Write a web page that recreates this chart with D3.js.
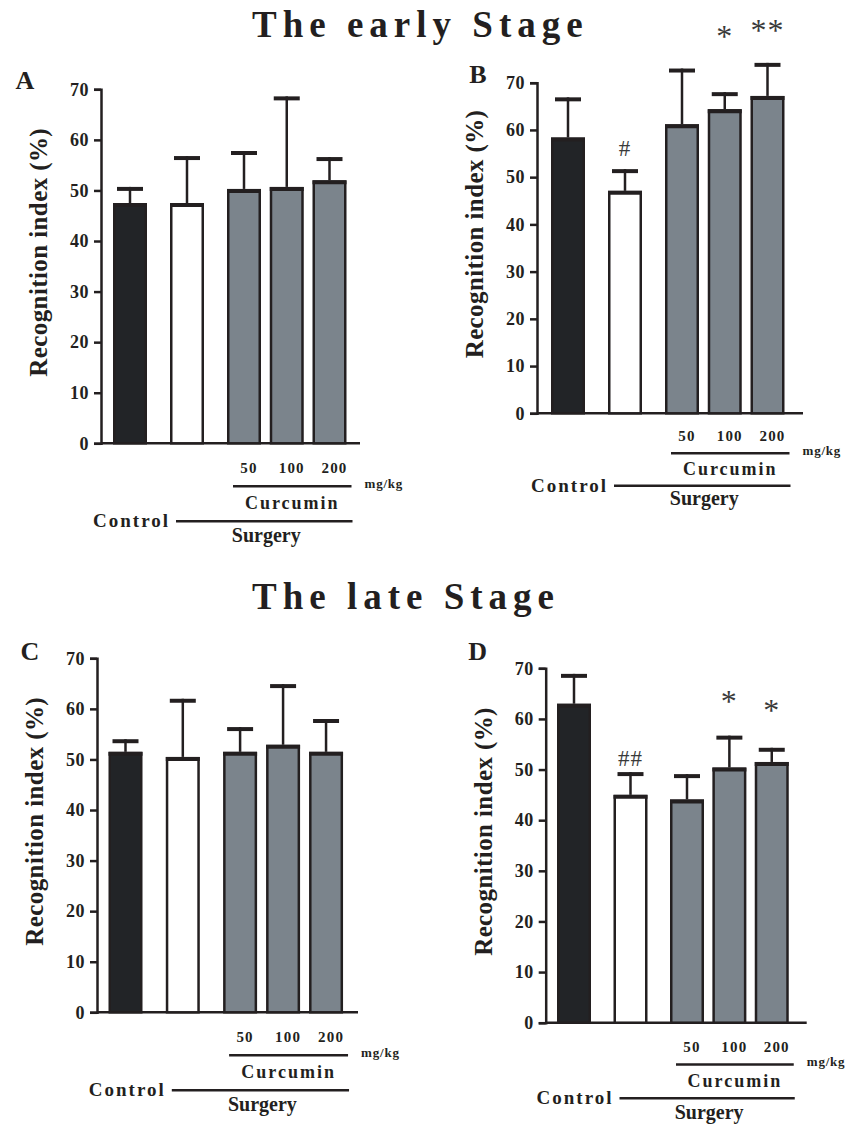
<!DOCTYPE html>
<html>
<head>
<meta charset="utf-8">
<script src="https://cdn.jsdelivr.net/npm/d3@7"></script>
<style>
  body { margin: 0; background: #fff; }
  svg text { font-family: "Liberation Serif", "Times New Roman", serif; font-weight: bold; fill: #231f20; }
</style>
</head>
<body>
<div id="chart"></div>
<script>
// groups and tick labels
var groups = ["Control", "Surgery", "Curcumin 50", "Curcumin 100", "Curcumin 200"];
var doseLabels = ["50", "100", "200"];
var yTicks = [0, 10, 20, 30, 40, 50, 60, 70];
var titles = ["The early Stage", "The late Stage"];

// means and upper SD
var meanA = [47.5, 47.5, 50.3, 50.7, 52.0];
var sdA   = [3.2, 9.3, 7.5, 17.9, 4.6];
var meanB = [58.4, 47.1, 61.2, 64.4, 67.2];
var sdB   = [8.5, 4.6, 11.8, 3.6, 7.0];
var meanC = [51.5, 50.5, 51.5, 52.9, 51.5];
var sdC   = [2.5, 11.5, 4.9, 12.0, 6.5];
var meanD = [63.0, 45.0, 44.1, 50.4, 51.5];
var sdD   = [5.9, 4.5, 5.0, 6.3, 2.8];

// significance marks and the level (in %) they sit at
var sigB   = ["", "#", "", "*", "**"];
var sigBAt = [0, 56.2, 0, 80.5, 81.8];
var sigD   = ["", "##", "", "*", "*"];
var sigDAt = [0, 52.3, 0, 64.1, 62.4];

var fills = ["#222427", "#ffffff", "#7b848c", "#7b848c", "#7b848c"];

var svgWidth = 860;
var svgHeight = 1125;

var svg = d3.select("#chart")
    .append("svg")
    .attr("width", svgWidth)
    .attr("height", svgHeight);

// titles
svg.append("text").attr("x", 252).attr("y", 37)
    .style("font-size", "37px").style("letter-spacing", "6px")
    .text(titles[0]);
svg.append("text").attr("x", 252).attr("y", 609)
    .style("font-size", "37px").style("letter-spacing", "6px")
    .text(titles[1]);

// panel layout
var panels = [
    {letter: "A", mean: meanA, sd: sdA, sig: null, sigAt: null,
     left: 101, top: 89.3, bottom: 443.3, width: 259, c0: 29, unit: 57, vs: 1, ldx: -76, ldy: 0},
    {letter: "B", mean: meanB, sd: sdB, sig: sigB, sigAt: sigBAt,
     left: 537, top: 82.7, bottom: 413.3, width: 266, c0: 31, unit: 57, vs: 0.93, ldx: -59, ldy: 0},
    {letter: "C", mean: meanC, sd: sdC, sig: null, sigAt: null,
     left: 97, top: 658.3, bottom: 1012.3, width: 261, c0: 28.5, unit: 57.3, vs: 1, ldx: -67, ldy: 2},
    {letter: "D", mean: meanD, sd: sdD, sig: sigD, sigAt: sigDAt,
     left: 545.7, top: 668.3, bottom: 1022.7, width: 261, c0: 28.3, unit: 56.5, vs: 0.97, ldx: -68, ldy: -8}
];

var barWidth = 34;
var capWidth = 26;

// Control and Surgery are spaced wider than the three curcumin doses
function slot(i) {
    return i < 2 ? i : 2 + (i - 2) * 0.75;
}

panels.forEach(function(p) {
    var height = p.bottom - p.top;
    var g = svg.append("g")
        .attr("transform", `translate(${p.left}, ${p.top})`);

    var xScale = d3.scaleLinear()
        .domain([0, 1])
        .range([p.c0, p.c0 + p.unit]);

    var yScale = d3.scaleLinear()
        .domain([0, 70])
        .range([height, 0]);

    var data = groups.map(function(name, i) {
        return {name: name, mean: p.mean[i], sd: p.sd[i], x: xScale(slot(i)), fill: fills[i],
                sig: p.sig ? p.sig[i] : "", sigAt: p.sigAt ? p.sigAt[i] : 0};
    });

    // y axis
    var yAxis = d3.axisLeft(yScale)
        .tickValues(yTicks)
        .tickSize(7)
        .tickPadding(5);
    var ya = g.append("g").call(yAxis);
    ya.select(".domain").attr("stroke", "#231f20").attr("stroke-width", 2.5);
    ya.selectAll(".tick line").attr("stroke", "#231f20").attr("stroke-width", 2.5);
    ya.selectAll(".tick text")
        .attr("fill", "#231f20")
        .style("font-family", "Liberation Serif, serif")
        .style("font-weight", "bold")
        .style("font-size", "18px")
        .style("letter-spacing", "0.5px");

    // x axis line
    g.append("line")
        .attr("x1", 0).attr("x2", p.width)
        .attr("y1", height).attr("y2", height)
        .attr("stroke", "#231f20").attr("stroke-width", 2.5);

    // error bars
    g.selectAll(".err")
        .data(data)
        .enter()
        .append("line")
        .attr("x1", d => d.x).attr("x2", d => d.x)
        .attr("y1", d => yScale(d.mean))
        .attr("y2", d => yScale(d.mean + d.sd))
        .attr("stroke", "#231f20").attr("stroke-width", 2.5);

    g.selectAll(".cap")
        .data(data)
        .enter()
        .append("line")
        .attr("x1", d => d.x - capWidth / 2).attr("x2", d => d.x + capWidth / 2)
        .attr("y1", d => yScale(d.mean + d.sd) + 2)
        .attr("y2", d => yScale(d.mean + d.sd) + 2)
        .attr("stroke", "#231f20").attr("stroke-width", 4);

    // bars
    g.selectAll(".bar")
        .data(data)
        .enter()
        .append("rect")
        .attr("x", d => d.x - barWidth / 2 + 1.25)
        .attr("y", d => yScale(d.mean) + 1.25)
        .attr("width", barWidth - 2.5)
        .attr("height", d => height - yScale(d.mean) - 1.25)
        .attr("fill", d => d.fill)
        .attr("stroke", "#231f20")
        .attr("stroke-width", 2.5);

    // thick top edge of each bar
    g.selectAll(".topedge")
        .data(data)
        .enter()
        .append("line")
        .attr("x1", d => d.x - barWidth / 2).attr("x2", d => d.x + barWidth / 2)
        .attr("y1", d => yScale(d.mean) + 2)
        .attr("y2", d => yScale(d.mean) + 2)
        .attr("stroke", "#231f20").attr("stroke-width", 4);

    // significance marks
    g.selectAll(".sig")
        .data(data.filter(d => d.sig !== ""))
        .enter()
        .append("text")
        .attr("x", d => d.x)
        .attr("y", d => yScale(d.sigAt) + (d.sig.charAt(0) === "*" ? 14 : 8))
        .attr("text-anchor", "middle")
        .style("font-weight", "normal")
        .style("fill", "#3a3a3a")
        .style("font-size", d => d.sig.charAt(0) === "*" ? "32px" : "23px")
        .style("letter-spacing", "1px")
        .text(d => d.sig);

    // panel letter
    g.append("text")
        .attr("x", p.ldx).attr("y", p.ldy)
        .attr("text-anchor", "middle")
        .style("font-size", "26px")
        .text(p.letter);

    // y label
    g.append("text")
        .attr("transform", `translate(-54, ${height / 2 - 14}) rotate(-90)`)
        .attr("text-anchor", "middle")
        .style("font-size", "25px")
        .style("letter-spacing", "0.4px")
        .text("Recognition index (%)");

    // group labels under the axis
    var white = data[1], d50 = data[2], d200 = data[4];
    var vs = p.vs;

    g.selectAll(".dose")
        .data(data.slice(2))
        .enter()
        .append("text")
        .attr("x", d => d.x + 5)
        .attr("y", height + 30 * vs)
        .attr("text-anchor", "middle")
        .style("font-size", "15px")
        .style("letter-spacing", "1.2px")
        .text((d, i) => doseLabels[i]);

    var curX1 = d50.x - barWidth / 2 + 6;
    var curX2 = d200.x + barWidth / 2 + 5;
    g.append("line")
        .attr("x1", curX1).attr("x2", curX2)
        .attr("y1", height + 43 * vs).attr("y2", height + 43 * vs)
        .attr("stroke", "#231f20").attr("stroke-width", 2.5);

    g.append("text")
        .attr("x", curX2 + 13)
        .attr("y", height + 45 * vs)
        .style("font-size", "13px")
        .style("letter-spacing", "0.8px")
        .text("mg/kg");

    g.append("text")
        .attr("x", (curX1 + curX2) / 2)
        .attr("y", height + 66 * vs)
        .attr("text-anchor", "middle")
        .style("font-size", "18px")
        .style("letter-spacing", "2px")
        .text("Curcumin");

    var surX1 = white.x - barWidth / 2 + 6;
    var surX2 = d200.x + barWidth / 2 + 6;
    g.append("line")
        .attr("x1", surX1).attr("x2", surX2)
        .attr("y1", height + 78 * vs).attr("y2", height + 78 * vs)
        .attr("stroke", "#231f20").attr("stroke-width", 2.5);

    g.append("text")
        .attr("x", surX1 - 6)
        .attr("y", height + 78 * vs + 6)
        .attr("text-anchor", "end")
        .style("font-size", "19px")
        .style("letter-spacing", "2px")
        .text(groups[0]);

    g.append("text")
        .attr("x", (surX1 + surX2) / 2 + 2)
        .attr("y", height + 99 * vs)
        .attr("text-anchor", "middle")
        .style("font-size", "20px")
        .text(groups[1]);
});
</script>
</body>
</html>
